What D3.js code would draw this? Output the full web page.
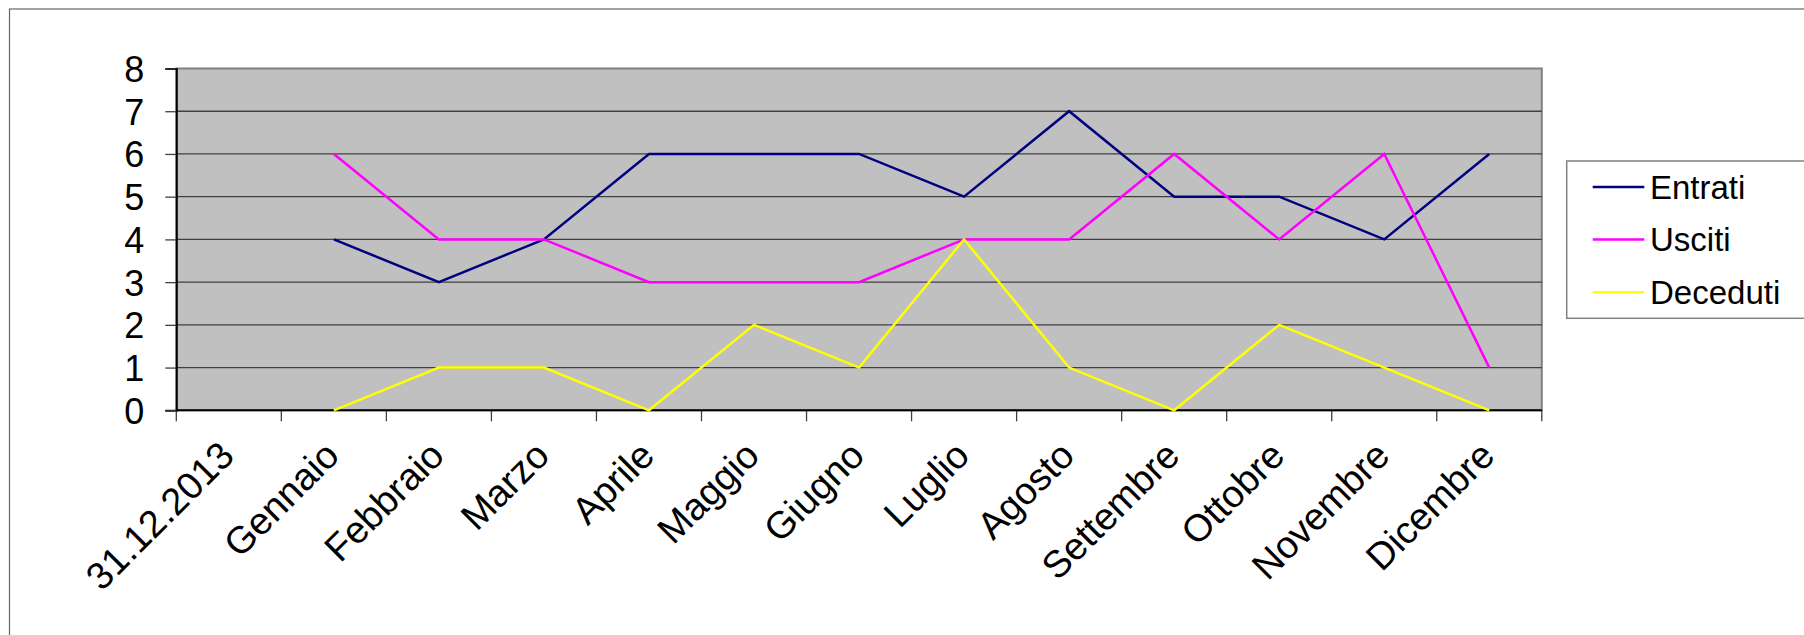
<!DOCTYPE html>
<html><head><meta charset="utf-8">
<script src="https://cdn.jsdelivr.net/npm/d3@7"></script>
<style>body{margin:0;background:#fff}svg{display:block}text{font-family:"Liberation Sans",Arial,sans-serif;fill:#000}</style>
</head><body>
<svg id="c" width="1804" height="635"></svg>
<script>
const categories = ["31.12.2013","Gennaio","Febbraio","Marzo","Aprile","Maggio","Giugno","Luglio","Agosto","Settembre","Ottobre","Novembre","Dicembre"];
const entrati  = [null,4,3,4,6,6,6,5,7,5,5,4,6];
const usciti   = [null,6,4,4,3,3,3,4,4,6,4,6,1];
const deceduti = [null,0,1,1,0,2,1,4,1,0,2,1,0];
const seriesNames = ["Entrati","Usciti","Deceduti"];
const seriesColors = ["#000080","#ff00ff","#ffff00"];
const yTicks = [0,1,2,3,4,5,6,7,8];

const svg = d3.select("#c");
const L = 176.3, R = 1541.8, T = 68.5, B = 410.3;
const x = d3.scaleBand().domain(categories).range([L, R]).padding(0);
const y = d3.scaleLinear().domain([0, 8]).range([B, T]);

// outer frame
svg.append("rect").attr("x", 9.5).attr("y", 9).attr("width", 1830).attr("height", 700)
  .attr("fill", "none").attr("stroke", "#666").attr("stroke-width", 1.2);

// plot area
svg.append("rect").attr("x", L).attr("y", T).attr("width", R - L).attr("height", B - T)
  .attr("fill", "#c0c0c0").attr("stroke", "#808080").attr("stroke-width", 2);

// gridlines
svg.append("g").selectAll("line").data(yTicks.filter(d => d > 0 && d < 8)).join("line")
  .attr("x1", L).attr("x2", R).attr("y1", d => y(d)).attr("y2", d => y(d))
  .attr("stroke", "#404040").attr("stroke-width", 1.3);

// y axis
const yAxis = svg.append("g").attr("transform", `translate(${L},0)`)
  .call(d3.axisLeft(y).tickValues(yTicks).tickSize(11).tickPadding(21).tickFormat(d3.format("d")));
yAxis.select(".domain").attr("stroke", "#000").attr("stroke-width", 2);
yAxis.selectAll(".tick line").attr("stroke", "#404040").attr("stroke-width", 1.3);
yAxis.selectAll(".tick text").attr("font-size", 36).attr("font-family", '"Liberation Sans",Arial,sans-serif').attr("fill", "#000").attr("dy", "0.36em");

// x axis
const bounds = categories.map(c => x(c)).concat([R]);
svg.append("g").selectAll("line").data(bounds).join("line")
  .attr("x1", d => d).attr("x2", d => d).attr("y1", B).attr("y2", B + 11)
  .attr("stroke", "#404040").attr("stroke-width", 1.3);
svg.append("line").attr("x1", L).attr("x2", R).attr("y1", B).attr("y2", B)
  .attr("stroke", "#000").attr("stroke-width", 2);
svg.append("g").selectAll("text").data(categories).join("text")
  .attr("transform", d => `translate(${x(d) + x.bandwidth() / 2 - 2},${B + 38}) rotate(-45)`)
  .attr("text-anchor", "end").attr("dy", "0.35em").attr("font-size", 38).text(d => d);

// lines
const allSeries = [entrati, usciti, deceduti];
const line = d3.line().defined(d => d.v != null)
  .x(d => x(d.c) + x.bandwidth() / 2).y(d => y(d.v));
allSeries.forEach((s, i) => {
  svg.append("path").datum(categories.map((c, j) => ({c, v: s[j]})))
    .attr("d", line).attr("fill", "none").attr("stroke", seriesColors[i])
    .attr("stroke-width", 2.5).attr("stroke-linejoin", "miter");
});

// legend
const lg = svg.append("g");
lg.append("rect").attr("x", 1566.7).attr("y", 161).attr("width", 300).attr("height", 157.3)
  .attr("fill", "#fff").attr("stroke", "#808080").attr("stroke-width", 1.5);
seriesNames.forEach((n, i) => {
  const yy = 187 + i * 52.6;
  lg.append("line").attr("x1", 1592.7).attr("x2", 1644.3).attr("y1", yy).attr("y2", yy)
    .attr("stroke", seriesColors[i]).attr("stroke-width", 2.5);
  lg.append("text").attr("x", 1650).attr("y", yy).attr("dy", "0.35em").attr("font-size", 33).text(n);
});
</script>
</body></html>
